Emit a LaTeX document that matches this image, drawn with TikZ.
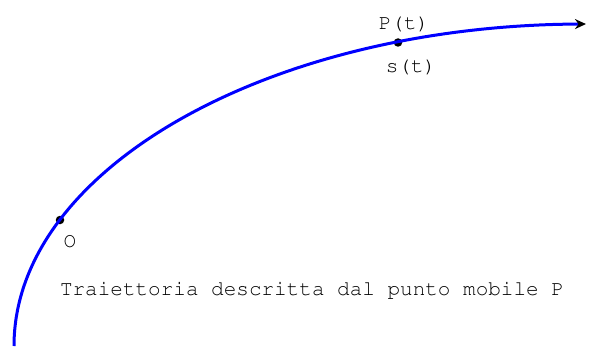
\documentclass[tikz,border=0pt]{standalone}
\usepackage[T1]{fontenc}
\usetikzlibrary{positioning, arrows.meta}
\definecolor{curveblue}{RGB}{0,0,255}

\begin{document}
\begin{tikzpicture}[x=1pt, y=1pt, font=\fontfamily{pcr}\fontsize{21}{25}\selectfont]
    \useasboundingbox (0,0) rectangle (594,346);
    % Points
    \coordinate (start) at (14,0);
    \node[circle, fill=black, inner sep=0pt, minimum size=8.5pt] (O) at (60,126) {};
    \node[circle, fill=black, inner sep=0pt, minimum size=8.5pt] (P) at (398,303.5) {};

    % Curve
    \draw[curveblue, line width=3pt, -{Stealth[black, length=11pt, width=10pt]}] (start) arc[start angle=180, end angle=90.4, x radius=576, y radius=322];

    % Labels
    \node[above=3pt of P, xshift=6pt] (Plabel) {P(t)};
    \node[below=9pt of P, xshift=13pt] (slabel) {s(t)};
    \node[below=7pt of O, xshift=10pt] (Olabel) {O};
    \node (caption) at (312,56) {Traiettoria descritta dal punto mobile P};
\end{tikzpicture}
\end{document}
